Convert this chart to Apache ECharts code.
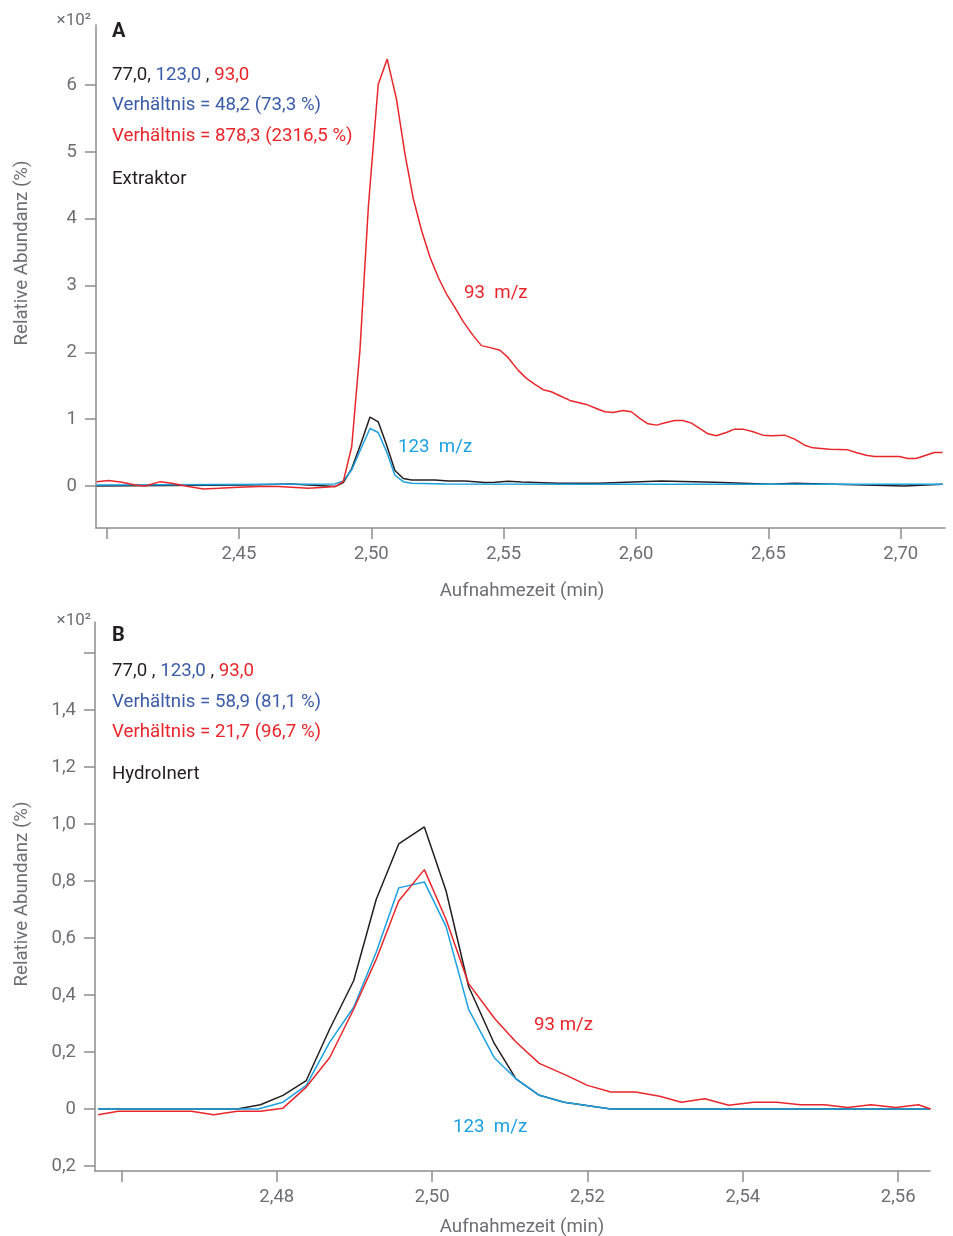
<!DOCTYPE html>
<html>
<head>
<meta charset="utf-8">
<title>Extraktor vs HydroInert</title>
<script src="https://cdn.jsdelivr.net/npm/echarts@6/dist/echarts.min.js"></script>
<style>
  html, body { margin: 0; padding: 0; background: #fff; }
  #chart { width: 953px; height: 1236px; }
</style>
</head>
<body>
<div id="chart"></div>
<script>
// Panel A (Extraktor) - [Aufnahmezeit (min), Abundanz x10^2]
const extraktor77 = [
  [2.3962, 0], [2.4523, 0.015], [2.4698, 0.03], [2.4863, -0.01], [2.4894, 0.05],
  [2.4926, 0.26], [2.4961, 0.64], [2.4995, 1.03], [2.5026, 0.96], [2.5058, 0.61],
  [2.5089, 0.23], [2.5121, 0.11], [2.5152, 0.09], [2.5240, 0.09], [2.5291, 0.075],
  [2.5354, 0.075], [2.5429, 0.05], [2.5467, 0.055], [2.5517, 0.07], [2.5567, 0.06],
  [2.5706, 0.04], [2.5857, 0.04], [2.6095, 0.075], [2.6297, 0.055], [2.6511, 0.025],
  [2.6599, 0.04], [2.6863, 0.015], [2.7014, 0], [2.7158, 0.025]
];
const extraktor123 = [
  [2.3962, 0.015], [2.4863, 0.03], [2.4894, 0.075], [2.4926, 0.24], [2.4961, 0.56],
  [2.4995, 0.86], [2.5026, 0.80], [2.5058, 0.51], [2.5089, 0.16], [2.5121, 0.064],
  [2.5152, 0.04], [2.5278, 0.03], [2.5857, 0.025], [2.7158, 0.025]
];
const extraktor93 = [
  [2.3963, 0.064], [2.4008, 0.08], [2.4058, 0.055], [2.4108, 0.015], [2.4146, 0],
  [2.4203, 0.064], [2.4246, 0.04], [2.4309, -0.01], [2.4366, -0.045], [2.4423, -0.035],
  [2.4498, -0.02], [2.4574, -0.01], [2.4649, -0.01], [2.4699, -0.02], [2.4762, -0.035],
  [2.4825, -0.02], [2.4863, -0.01], [2.4894, 0.064], [2.4926, 0.59], [2.4957, 2.03],
  [2.4989, 4.19], [2.5026, 6.01], [2.5060, 6.39], [2.5095, 5.79], [2.5127, 4.97],
  [2.5158, 4.31], [2.5190, 3.82], [2.5222, 3.42], [2.5253, 3.12], [2.5283, 2.88],
  [2.5316, 2.67], [2.5347, 2.46], [2.5385, 2.25], [2.5416, 2.10], [2.5449, 2.07],
  [2.5486, 2.03], [2.5517, 1.92], [2.5555, 1.73], [2.5586, 1.61], [2.5618, 1.52],
  [2.5649, 1.44], [2.5680, 1.41], [2.5712, 1.35], [2.5750, 1.28], [2.5812, 1.22],
  [2.5850, 1.16], [2.5882, 1.11], [2.5913, 1.10], [2.5951, 1.13], [2.5982, 1.11],
  [2.6014, 1.01], [2.6045, 0.93], [2.6077, 0.91], [2.6114, 0.95], [2.6146, 0.98],
  [2.6177, 0.98], [2.6209, 0.94], [2.6240, 0.86], [2.6272, 0.78], [2.6303, 0.75],
  [2.6341, 0.80], [2.6372, 0.85], [2.6404, 0.85], [2.6442, 0.81], [2.6479, 0.76],
  [2.6511, 0.75], [2.6561, 0.76], [2.6599, 0.70], [2.6637, 0.61], [2.6668, 0.57],
  [2.6731, 0.55], [2.6800, 0.54], [2.6831, 0.50], [2.6869, 0.46], [2.6901, 0.44],
  [2.6995, 0.44], [2.7026, 0.41], [2.7058, 0.41], [2.7095, 0.46], [2.7127, 0.50],
  [2.7158, 0.50]
];

// Panel B (HydroInert)
const hydro77 = [
  [2.4570, 0], [2.4749, 0], [2.4779, 0.015], [2.4808, 0.048], [2.4838, 0.10],
  [2.4868, 0.28], [2.4899, 0.45], [2.4928, 0.735], [2.4957, 0.93], [2.4990, 0.99],
  [2.5018, 0.765], [2.5047, 0.43], [2.5080, 0.23], [2.5108, 0.106], [2.5138, 0.048],
  [2.5170, 0.024], [2.5230, 0], [2.5641, 0]
];
const hydro123 = [
  [2.4570, 0], [2.4776, 0], [2.4808, 0.024], [2.4838, 0.083], [2.4868, 0.234],
  [2.4899, 0.357], [2.4928, 0.55], [2.4957, 0.776], [2.4990, 0.797], [2.5018, 0.64],
  [2.5047, 0.35], [2.5080, 0.18], [2.5108, 0.106], [2.5138, 0.048], [2.5170, 0.024],
  [2.5230, 0], [2.5641, 0]
];
const hydro93 = [
  [2.4570, -0.02], [2.4596, -0.008], [2.4690, -0.008], [2.4719, -0.02], [2.4749, -0.008],
  [2.4779, -0.008], [2.4808, 0.003], [2.4838, 0.077], [2.4868, 0.18], [2.4899, 0.35],
  [2.4928, 0.525], [2.4957, 0.73], [2.4990, 0.84], [2.5018, 0.665], [2.5047, 0.44],
  [2.5081, 0.316], [2.5108, 0.235], [2.5138, 0.16], [2.5173, 0.118], [2.5200, 0.083],
  [2.5230, 0.06], [2.5262, 0.06], [2.5293, 0.045], [2.5321, 0.024], [2.5351, 0.036],
  [2.5382, 0.013], [2.5414, 0.024], [2.5444, 0.024], [2.5474, 0.015], [2.5505, 0.015],
  [2.5535, 0.005], [2.5565, 0.015], [2.5597, 0.005], [2.5626, 0.015], [2.5642, 0]
];

// ticks
const ticksXA = [2.40, 2.45, 2.50, 2.55, 2.60, 2.65, 2.70];
const labelsXA = [2.45, 2.50, 2.55, 2.60, 2.65, 2.70];
const ticksYA = [0, 1, 2, 3, 4, 5, 6];
const ticksXB = [2.46, 2.48, 2.50, 2.52, 2.54, 2.56];
const labelsXB = [2.48, 2.50, 2.52, 2.54, 2.56];
const ticksYB = [-0.2, 0, 0.2, 0.4, 0.6, 0.8, 1.0, 1.2, 1.4, 1.6];
const labelsYB = [-0.2, 0, 0.2, 0.4, 0.6, 0.8, 1.0, 1.2, 1.4];

const BLACK = '#231f20';
const RED = '#e8262b';
const CYAN = '#1ba1e2';
const BLUE = '#3a5ba8';
const AXIS = '#8d8d8d';
const LABEL = '#6d6e71';
const FONT = 'Roboto';
const FS = 18.7;

const comma = (v, d) => v.toFixed(d).replace('.', ',');

function xAxisOf(idx, min, max, ticks, labels) {
  return {
    type: 'value', gridIndex: idx, min: min, max: max,
    splitLine: { show: false },
    axisLine: { onZero: false, lineStyle: { color: AXIS, width: 1.5 } },
    axisTick: { length: 11, customValues: ticks, lineStyle: { color: AXIS, width: 1.5 } },
    axisLabel: {
      customValues: labels, margin: 17, color: LABEL, fontFamily: FONT, fontSize: 18.5,
      formatter: v => comma(v, 2)
    }
  };
}
function yAxisOf(idx, min, max, ticks, labels, fmt) {
  return {
    type: 'value', gridIndex: idx, min: min, max: max,
    splitLine: { show: false },
    axisLine: { onZero: false, lineStyle: { color: AXIS, width: 1.5 } },
    axisTick: { length: 11, customValues: ticks, lineStyle: { color: AXIS, width: 1.5 } },
    axisLabel: {
      customValues: labels, margin: 19, color: LABEL, fontFamily: FONT, fontSize: 18.5,
      formatter: fmt
    }
  };
}
function line(name, data, color, idx) {
  return {
    name: name, type: 'line', data: data, xAxisIndex: idx, yAxisIndex: idx,
    showSymbol: false, symbol: 'none', silent: true,
    lineStyle: { color: color, width: 1.5 }
  };
}
function txt(x, y, text, color, font) {
  return {
    type: 'text', x: x, y: y, silent: true,
    style: {
      text: text, fill: color, font: font || (FS + 'px ' + FONT),
      textVerticalAlign: 'middle', verticalAlign: 'middle'
    }
  };
}
const rich = {
  k: { fill: BLACK, color: BLACK, fontFamily: FONT, fontSize: FS },
  b: { fill: BLUE, color: BLUE, fontFamily: FONT, fontSize: FS },
  r: { fill: RED, color: RED, fontFamily: FONT, fontSize: FS }
};
function richTxt(x, y, text) {
  return {
    type: 'text', x: x, y: y, silent: true,
    style: { text: text, rich: rich, font: FS + 'px ' + FONT, textVerticalAlign: 'middle', verticalAlign: 'middle' }
  };
}
function centered(x, y, text, rot) {
  return {
    type: 'text', x: x, y: y, rotation: rot || 0, silent: true,
    style: {
      text: text, fill: LABEL, font: FS + 'px ' + FONT,
      textAlign: 'center', align: 'center', textVerticalAlign: 'middle', verticalAlign: 'middle'
    }
  };
}
function exp(y) {
  return {
    type: 'text', x: 91, y: y, silent: true,
    style: {
      text: '×10²', fill: LABEL, font: '17px ' + FONT,
      textAlign: 'right', align: 'right', textVerticalAlign: 'middle', verticalAlign: 'middle'
    }
  };
}

const chart = echarts.init(document.getElementById('chart'), null, { renderer: 'canvas' });
chart.setOption({
  animation: false,
  backgroundColor: '#fff',
  grid: [
    { left: 96, top: 25, width: 849, height: 503 },
    { left: 95, top: 622, width: 835, height: 549 }
  ],
  xAxis: [
    xAxisOf(0, 2.396, 2.7167, ticksXA, labelsXA),
    xAxisOf(1, 2.4566, 2.5641, ticksXB, labelsXB)
  ],
  yAxis: [
    yAxisOf(0, -0.63, 6.90, ticksYA, ticksYA, v => String(Math.round(v))),
    yAxisOf(1, -0.2175, 1.709, ticksYB, labelsYB,
      v => (Math.abs(v) < 1e-9 ? '0' : comma(Math.abs(v), 1)))
  ],
  series: [
    line('77,0 A', extraktor77, BLACK, 0),
    line('123,0 A', extraktor123, CYAN, 0),
    line('93,0 A', extraktor93, RED, 0),
    line('77,0 B', hydro77, BLACK, 1),
    line('123,0 B', hydro123, CYAN, 1),
    line('93,0 B', hydro93, RED, 1)
  ],
  graphic: [
    exp(21), exp(621),
    centered(22, 253, 'Relative Abundanz (%)', Math.PI / 2),
    centered(22, 894, 'Relative Abundanz (%)', Math.PI / 2),
    centered(522, 591, 'Aufnahmezeit (min)'),
    centered(522, 1227, 'Aufnahmezeit (min)'),

    txt(112, 32, 'A', BLACK, 'bold 20px ' + FONT),
    richTxt(112, 75, '{k|77,0,} {b|123,0} {k|,} {r|93,0}'),
    txt(112, 105, 'Verhältnis = 48,2 (73,3 %)', BLUE),
    txt(112, 136, 'Verhältnis = 878,3 (2316,5 %)', RED),
    txt(112, 179, 'Extraktor', BLACK),
    txt(464, 293, '93  m/z', RED),
    txt(398, 447, '123  m/z', CYAN),

    txt(112, 636, 'B', BLACK, 'bold 20px ' + FONT),
    richTxt(112, 671, '{k|77,0 ,} {b|123,0} {k|,} {r|93,0}'),
    txt(112, 702, 'Verhältnis = 58,9 (81,1 %)', BLUE),
    txt(112, 732, 'Verhältnis = 21,7 (96,7 %)', RED),
    txt(112, 774, 'HydroInert', BLACK),
    txt(534, 1025, '93 m/z', RED),
    txt(453, 1127, '123  m/z', CYAN)
  ]
});
</script>
</body>
</html>
